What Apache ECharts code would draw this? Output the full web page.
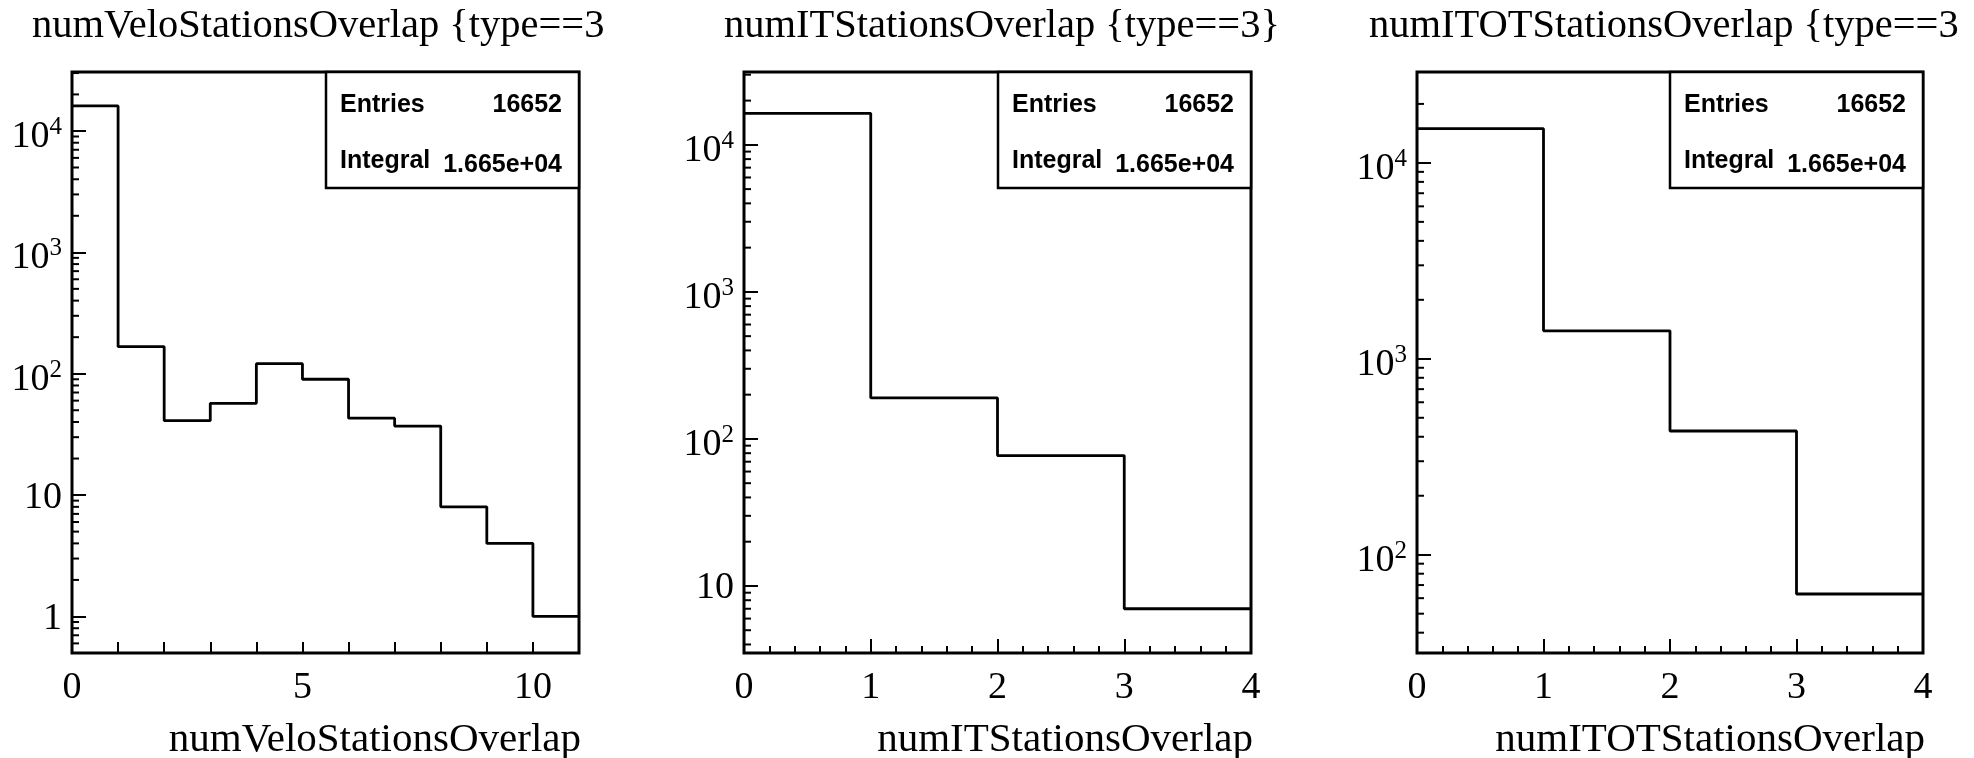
<!DOCTYPE html>
<html>
<head>
<meta charset="utf-8">
<script src="https://cdn.jsdelivr.net/npm/echarts@6/dist/echarts.min.js"></script>
<style>
  html, body { margin: 0; padding: 0; background: #fff; }
  #chart { width: 1974px; height: 758px; }
</style>
</head>
<body>
<div id="chart"></div>
<script>
// Bin edges and bin contents of the three overlap histograms
const veloEdges  = [0, 1, 2, 3, 4, 5, 6, 7, 8, 9, 10, 11];
const veloCounts = [16083, 167, 41, 57, 121, 90, 43, 37, 8, 4, 1];
const itEdges    = [0, 1, 2, 3, 4];
const itCounts   = [16378, 190, 77, 7];
const itotEdges  = [0, 1, 2, 3, 4];
const itotCounts = [14950, 1390, 428, 63];

// Pad titles, axis titles and statistics box entries
const padTitles   = ['numVeloStationsOverlap {type==3', 'numITStationsOverlap {type==3}', 'numITOTStationsOverlap {type==3'];
const axisTitles  = ['numVeloStationsOverlap', 'numITStationsOverlap', 'numITOTStationsOverlap'];
const xLabelEvery = [5, 1, 1];
const statEntries  = ['16652', '16652', '16652'];
const statIntegral = ['1.665e+04', '1.665e+04', '1.665e+04'];

// Log-axis minor tick multipliers inside each decade
const logMinor = [2, 3, 4, 5, 6, 7, 8, 9];

const hists = [
  { edges: veloEdges, counts: veloCounts },
  { edges: itEdges,   counts: itCounts },
  { edges: itotEdges, counts: itotCounts }
];

// Frame geometry and y ranges of each pad
const frames = [
  { left: 72,   width: 507, ymin: 0.5,  ymax: 30600, titleX: 27 },
  { left: 744,  width: 507, ymin: 3.5,  ymax: 31300, titleX: 719 },
  { left: 1417, width: 506, ymin: 31.5, ymax: 29100, titleX: 1364 }
];
const FRAME_TOP = 72, FRAME_H = 581;
const SERIF = '"Liberation Serif", "Times New Roman", serif';
const SANS = '"Liberation Sans", Arial, sans-serif';

function stepPoints(h) {
  const pts = h.counts.map((v, i) => [h.edges[i], v]);
  pts.push([h.edges[h.edges.length - 1], h.counts[h.counts.length - 1]]);
  return pts;
}

function minorTickValues(lo, hi) {
  const out = [];
  for (let p = Math.floor(Math.log10(lo)) - 1; p <= Math.ceil(Math.log10(hi)); p++) {
    logMinor.forEach(m => {
      const v = m * Math.pow(10, p);
      if (v > lo && v < hi) out.push(v);
    });
  }
  return out;
}

function logLabel(v) {
  const lg = Math.log10(v);
  const p = Math.round(lg);
  if (Math.abs(lg - p) > 1e-6) return '';
  if (p === 0) return '{p|1}';
  if (p === 1) return '{p|10}';
  return '{b|10}{s|' + p + '}';
}

const grids = [], xAxes = [], yAxes = [], series = [], graphics = [], titles = [];

frames.forEach((f, i) => {
  const h = hists[i];
  const xmax = h.edges[h.edges.length - 1];

  grids.push({
    left: f.left, top: FRAME_TOP, width: f.width, height: FRAME_H,
    show: true, borderColor: '#000', borderWidth: 3, backgroundColor: 'transparent',
    containLabel: false, outerBoundsMode: 'none'
  });

  xAxes.push({
    gridIndex: i, type: 'value', min: 0, max: xmax, interval: 1,
    axisLine: { show: false },
    axisTick: { show: true, inside: true, length: i === 0 ? 11 : 14, lineStyle: { color: '#000', width: 2 } },
    minorTick: { show: i !== 0, splitNumber: 5, length: 7, lineStyle: { color: '#000', width: 2 } },
    splitLine: { show: false },
    axisLabel: {
      color: '#000', fontFamily: SERIF, fontSize: 38, margin: 16,
      formatter: v => (Math.abs(v % xLabelEvery[i]) < 1e-9 ? String(v) : '')
    }
  });

  yAxes.push({
    gridIndex: i, type: 'log', logBase: 10, min: f.ymin, max: f.ymax,
    axisLine: { show: false },
    axisTick: { show: true, inside: true, length: 14, lineStyle: { color: '#000', width: 2 } },
    splitLine: { show: false },
    axisLabel: {
      color: '#000', margin: 10, formatter: logLabel,
      rich: {
        p: { fontFamily: SERIF, fontSize: 38, color: '#000', padding: [5, 0, 0, 0] },
        b: { fontFamily: SERIF, fontSize: 38, color: '#000', verticalAlign: 'bottom', padding: [12, 0, 0, 0] },
        s: { fontFamily: SERIF, fontSize: 25, color: '#000', verticalAlign: 'bottom', padding: [0, 0, 16, 0] }
      }
    }
  });

  series.push({
    type: 'line', xAxisIndex: i, yAxisIndex: i, step: 'end',
    data: stepPoints(h), showSymbol: false, symbol: 'none',
    lineStyle: { color: '#000', width: 2.8 }, silent: true, animation: false, z: 3
  });

  series.push({
    type: 'custom', xAxisIndex: i, yAxisIndex: i, silent: true, animation: false,
    data: minorTickValues(f.ymin, f.ymax).map(v => [0, v]),
    renderItem: (params, api) => {
      const pt = api.coord([0, api.value(1)]);
      return {
        type: 'line',
        shape: { x1: pt[0], y1: pt[1], x2: pt[0] + 7, y2: pt[1] },
        style: { stroke: '#000', lineWidth: 2 }
      };
    }
  });

  titles.push({
    text: padTitles[i], left: f.titleX, top: 1,
    textStyle: { color: '#000', fontFamily: SERIF, fontSize: 40.5, fontWeight: 'normal' }
  });

  // x axis title, right-aligned under the frame
  graphics.push({
    type: 'text', z: 100, x: f.left + f.width + 2, y: 740,
    style: { text: axisTitles[i], font: '41px ' + SERIF, fill: '#000', align: 'right', verticalAlign: 'middle' }
  });

  // statistics box in the upper right corner of the frame
  const bx = f.left + f.width - 253, bw = 253, by = FRAME_TOP, bh = 116;
  graphics.push({
    type: 'group', z: 100, children: [
      { type: 'rect', shape: { x: bx, y: by, width: bw, height: bh },
        style: { fill: '#fff', stroke: '#000', lineWidth: 2.5 } },
      { type: 'text', x: bx + 14, y: by + 33,
        style: { text: 'Entries', font: 'bold 25px ' + SANS, fill: '#000', align: 'left', verticalAlign: 'middle' } },
      { type: 'text', x: bx + bw - 17, y: by + 33,
        style: { text: statEntries[i], font: 'bold 25px ' + SANS, fill: '#000', align: 'right', verticalAlign: 'middle' } },
      { type: 'text', x: bx + 14, y: by + 89,
        style: { text: 'Integral', font: 'bold 25px ' + SANS, fill: '#000', align: 'left', verticalAlign: 'middle' } },
      { type: 'text', x: bx + bw - 17, y: by + 93,
        style: { text: statIntegral[i], font: 'bold 25px ' + SANS, fill: '#000', align: 'right', verticalAlign: 'middle' } }
    ]
  });
});

const chart = echarts.init(document.getElementById('chart'), null, { renderer: 'canvas' });
chart.setOption({
  backgroundColor: '#fff',
  animation: false,
  title: titles,
  grid: grids,
  xAxis: xAxes,
  yAxis: yAxes,
  series: series,
  graphic: graphics
});
</script>
</body>
</html>
